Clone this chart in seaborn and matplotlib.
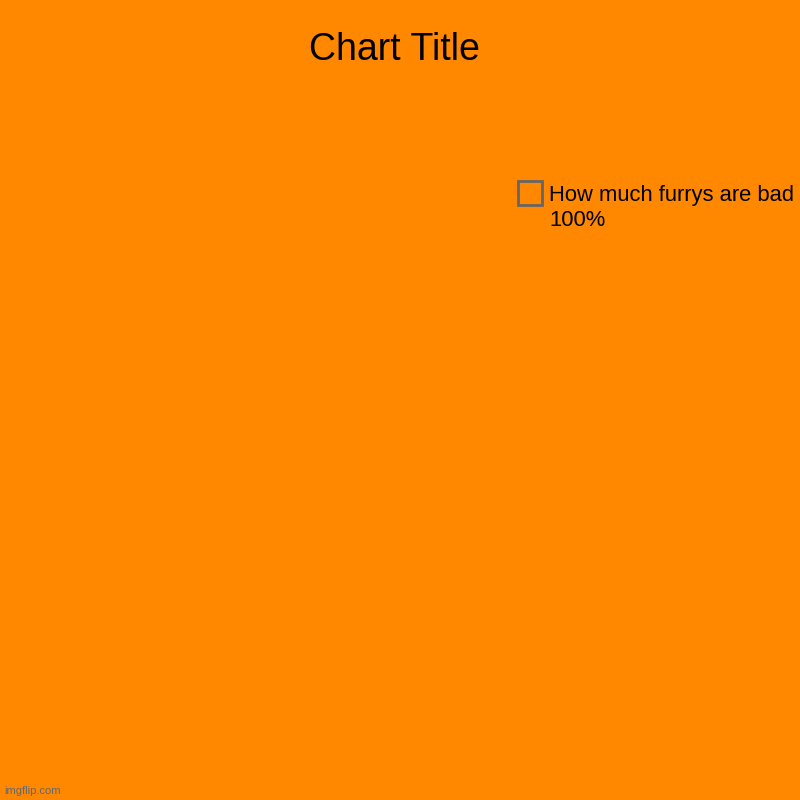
import matplotlib
matplotlib.use("Agg")
import matplotlib.pyplot as plt
import matplotlib.patches as mpatches
from matplotlib.legend_handler import HandlerPatch
import seaborn as sns

# data
labels = ["How much furrys are bad"]
values = [100]
bg = "#FF8800"

sns.set_theme(style="white")
plt.rcParams['font.family'] = ['Liberation Sans', 'DejaVu Sans']
plt.rcParams['text.color'] = 'black'

fig = plt.figure(figsize=(8, 8), dpi=100, facecolor=bg)
ax = fig.add_axes([0.05, 0.05, 0.55, 0.8])
ax.set_facecolor(bg)

# single slice, same colour as the background so it blends in
wedges, _ = ax.pie(values, colors=[bg], startangle=90,
                   wedgeprops=dict(linewidth=0))
ax.set_aspect('equal')
ax.axis('off')

fig.suptitle("Chart Title", x=0.4925, y=0.96, fontsize=27, color="black")


def square_top(legend, orig_handle, xdescent, ydescent, width, height, fontsize):
    # square box aligned with the first text line
    return mpatches.Rectangle((-xdescent, -ydescent + 10), width, width)


total = sum(values)
handles = [mpatches.Patch(facecolor=bg, edgecolor="#666666", linewidth=2)
           for _ in labels]
legend_labels = [f"{lab}\n{v / total * 100:.0f}%" for lab, v in zip(labels, values)]
leg = fig.legend(handles, legend_labels, loc="upper left",
                 bbox_to_anchor=(0.6475, 0.7685), frameon=False,
                 fontsize=15.85, handlelength=1.09, handleheight=1.09,
                 handletextpad=0.32, borderpad=0, borderaxespad=0,
                 labelspacing=0.5,
                 handler_map={mpatches.Patch: HandlerPatch(patch_func=square_top)})
for t in leg.get_texts():
    t.set_linespacing(1.23)
    t.set_color("black")

fig.text(0.005, 0.005, "imgflip.com", fontsize=8, color="#666666",
         ha="left", va="bottom")

fig.savefig("out.png", dpi=100, facecolor=bg)
